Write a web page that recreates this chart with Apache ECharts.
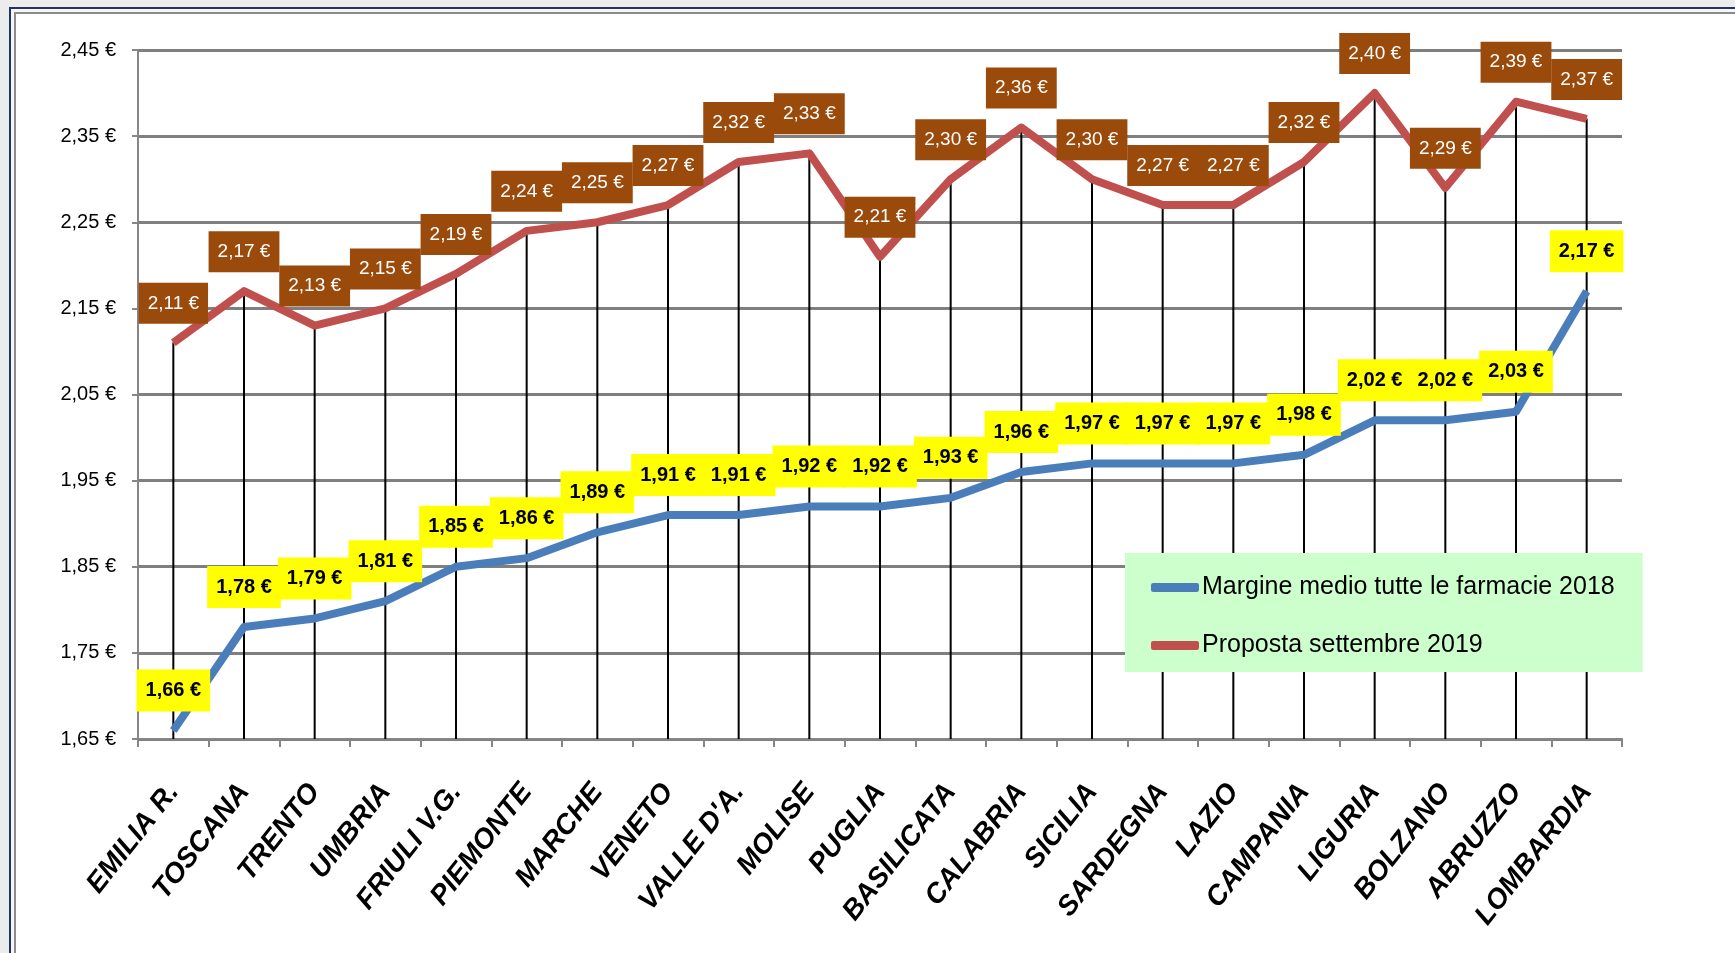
<!DOCTYPE html>
<html>
<head>
<meta charset="utf-8">
<script src="https://cdn.jsdelivr.net/npm/echarts@6/dist/echarts.min.js"></script>
<style>
  html, body { margin:0; padding:0; width:1735px; height:953px; overflow:hidden; background:#ececec; }
  #frame { position:absolute; left:9px; top:7px; width:1800px; height:1000px; border:2px solid #1c3566; background:#fff;
           box-shadow: inset 0 0 0 3px #f6f6f6, inset 0 0 0 5px #8c8c8c; }
  #chart { position:absolute; left:0; top:0; width:1735px; height:953px; }
</style>
</head>
<body>
<div id="frame"></div>
<div id="chart"></div>
<script>
const categories = ['EMILIA R.', 'TOSCANA', 'TRENTO', 'UMBRIA', 'FRIULI V.G.', 'PIEMONTE', 'MARCHE', 'VENETO', "VALLE D'A.", 'MOLISE', 'PUGLIA', 'BASILICATA', 'CALABRIA', 'SICILIA', 'SARDEGNA', 'LAZIO', 'CAMPANIA', 'LIGURIA', 'BOLZANO', 'ABRUZZO', 'LOMBARDIA'];
const margine2018 = [1.66, 1.78, 1.79, 1.81, 1.85, 1.86, 1.89, 1.91, 1.91, 1.92, 1.92, 1.93, 1.96, 1.97, 1.97, 1.97, 1.98, 2.02, 2.02, 2.03, 2.17];
const proposta2019 = [2.11, 2.17, 2.13, 2.15, 2.19, 2.24, 2.25, 2.27, 2.32, 2.33, 2.21, 2.30, 2.36, 2.30, 2.27, 2.27, 2.32, 2.40, 2.29, 2.39, 2.37];
const yTicks = [1.65, 1.75, 1.85, 1.95, 2.05, 2.15, 2.25, 2.35, 2.45];
const seriesNames = ['Margine medio tutte le farmacie 2018', 'Proposta settembre 2019'];

const yMin = yTicks[0], yMax = yTicks[yTicks.length - 1];
const FONT = "'Liberation Sans', Arial, sans-serif";
const fmt = v => v.toFixed(2).replace('.', ',') + ' €';

const chart = echarts.init(document.getElementById('chart'), null, { renderer: 'canvas' });
chart.setOption({
  backgroundColor: 'transparent',
  animation: false,
  grid: { left: 138, right: 113, top: 50, bottom: 214, containLabel: false },
  legend: {
    orient: 'vertical',
    left: 1125, top: 553,
    backgroundColor: '#ccffcc',
    padding: [22, 28, 14, 26],
    itemGap: 33,
    itemWidth: 48, itemHeight: 9,
    icon: 'roundRect',
    textStyle: { fontFamily: FONT, fontSize: 25, color: '#000', padding: [0, 0, 0, -2] },
    data: seriesNames
  },
  xAxis: {
    type: 'category',
    data: categories,
    boundaryGap: true,
    axisLine: { lineStyle: { color: '#868686', width: 2 } },
    axisTick: { show: true, length: 8, lineStyle: { color: '#868686', width: 2 } },
    axisLabel: {
      interval: 0, rotate: 52, margin: 48,
      fontFamily: FONT, fontSize: 28, fontWeight: 'bold', fontStyle: 'italic', color: '#000',
      padding: [40, 0, 0, 0]
    },
    splitLine: { show: false }
  },
  yAxis: {
    type: 'value',
    min: yMin, max: yMax,
    axisLine: { show: true, lineStyle: { color: '#868686', width: 2 } },
    axisTick: { show: true, length: 6, lineStyle: { color: '#868686', width: 2 }, customValues: yTicks },
    axisLabel: { customValues: yTicks, formatter: v => fmt(v), fontFamily: FONT, fontSize: 20, color: '#000', margin: 22 },
    splitLine: { show: true, lineStyle: { color: '#7f7f7f', width: 3 } }
  },
  series: [
    {
      type: 'custom',
      name: 'drop',
      z: 1,
      silent: true,
      data: proposta2019.map((v, i) => [i, v]),
      renderItem: function (params, api) {
        const top = api.coord([api.value(0), api.value(1)]);
        const base = api.coord([api.value(0), yMin]);
        return { type: 'line', shape: { x1: top[0], y1: top[1], x2: base[0], y2: base[1] },
                 style: { stroke: '#000', lineWidth: 2 } };
      }
    },
    {
      type: 'line',
      name: seriesNames[0],
      data: margine2018,
      z: 3,
      color: '#4a7ebb',
      lineStyle: { width: 8, color: '#4a7ebb', join: 'round' },
      symbol: 'circle', symbolSize: 2,
      itemStyle: { color: '#4a7ebb' },
      label: {
        show: true, position: 'top', distance: 18, formatter: p => fmt(p.value),
        backgroundColor: '#ffff00', color: '#000', fontFamily: FONT, fontSize: 20, fontWeight: 'bold',
        padding: [11, 9, 11, 9]
      }
    },
    {
      type: 'line',
      name: seriesNames[1],
      data: proposta2019,
      z: 3,
      color: '#c0504d',
      lineStyle: { width: 8, color: '#c0504d', join: 'round' },
      symbol: 'circle', symbolSize: 2,
      itemStyle: { color: '#c0504d' },
      label: {
        show: true, position: 'top', distance: 18, formatter: p => fmt(p.value),
        backgroundColor: '#9a4a0a', color: '#fff', fontFamily: FONT, fontSize: 19,
        padding: [11, 9, 11, 9]
      }
    }
  ]
});
</script>
</body>
</html>
